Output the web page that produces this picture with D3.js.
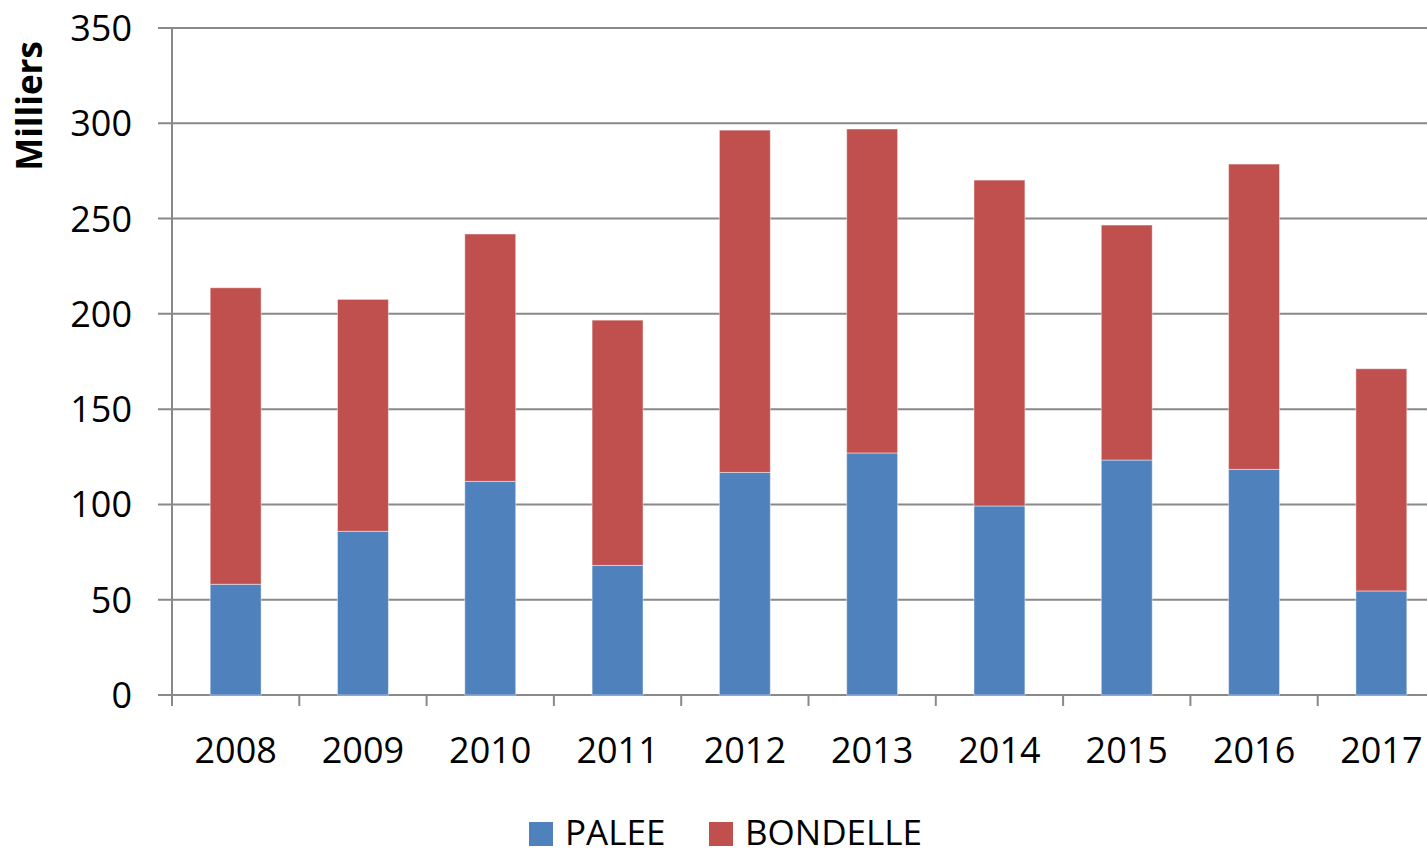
<!DOCTYPE html>
<html><head><meta charset="utf-8">
<script src="https://cdn.jsdelivr.net/npm/d3@7/dist/d3.min.js"></script>
<style>body{margin:0;background:#fff;overflow:hidden}svg{display:block}text{font-family:"Open Sans",sans-serif;fill:#000}</style>
</head><body>
<svg id="c" width="1427" height="856"></svg>
<script>
const years = ["2008","2009","2010","2011","2012","2013","2014","2015","2016","2017"];
const palee = [58.1, 85.9, 112.1, 68.0, 116.8, 127.0, 99.2, 123.3, 118.4, 54.6];
const totals = [213.7, 207.6, 241.9, 196.7, 296.4, 297.0, 270.2, 246.6, 278.6, 171.2];
const bondelle = totals.map((t,i) => +(t - palee[i]).toFixed(1));
const seriesNames = ["PALEE","BONDELLE"];
const colors = ["#4F81BD","#C0504D"];
const yTicks = [0,50,100,150,200,250,300,350];

const svg = d3.select("#c");
const y = d3.scaleLinear().domain([0,350]).range([695,28]);
const x = d3.scaleBand().domain(years).range([172,1445]).paddingInner(0.6).paddingOuter(0.3);
const step = x.step();

// gridlines
svg.append("g").selectAll("line").data(yTicks).join("line")
  .attr("x1",158).attr("x2",1445).attr("y1",d=>y(d)).attr("y2",d=>y(d))
  .attr("stroke","#898989").attr("stroke-width",2);
// y axis line
svg.append("line").attr("x1",172).attr("x2",172).attr("y1",y(350)).attr("y2",y(0))
  .attr("stroke","#898989").attr("stroke-width",2);
// x ticks
const xb = d3.range(years.length+1).map(i => 172 + i*step);
svg.append("g").selectAll("line").data(xb).join("line")
  .attr("x1",d=>d).attr("x2",d=>d).attr("y1",y(0)).attr("y2",y(0)+11)
  .attr("stroke","#898989").attr("stroke-width",2);

// stacked bars
const data = years.map((yr,i)=>({year:yr, PALEE:palee[i], BONDELLE:bondelle[i]}));
const stack = d3.stack().keys(seriesNames)(data);
svg.append("g").selectAll("g").data(stack).join("g")
  .attr("fill",(d,i)=>colors[i])
  .selectAll("rect").data(d=>d).join("rect")
  .attr("x",d=>x(d.data.year)).attr("width",x.bandwidth())
  .attr("y",d=>y(d[1])).attr("height",d=>y(d[0])-y(d[1]))
  .attr("stroke","rgba(255,255,255,0.45)").attr("stroke-width",1);

// y labels
svg.append("g").selectAll("text").data(yTicks).join("text")
  .attr("x",132).attr("y",d=>y(d)).attr("dy","0.36em").attr("text-anchor","end")
  .attr("font-size",36).text(d=>d);
// x labels
svg.append("g").selectAll("text").data(years).join("text")
  .attr("x",d=>x(d)+x.bandwidth()/2).attr("y",763).attr("text-anchor","middle")
  .attr("font-size",36).text(d=>d);
// y title
svg.append("text").attr("transform","translate(42,106) rotate(-90)")
  .attr("text-anchor","middle").attr("font-size",35).attr("font-weight","bold").text("Milliers");

// legend
const leg = [{name:"PALEE",sx:529,tx:565},{name:"BONDELLE",sx:709,tx:745}];
const lg = svg.append("g");
leg.forEach((l,i)=>{
  lg.append("rect").attr("x",l.sx).attr("y",822).attr("width",24).attr("height",24).attr("fill",colors[i]);
  lg.append("text").attr("x",l.tx).attr("y",845).attr("font-size",35).text(l.name);
});
</script>
</body></html>
